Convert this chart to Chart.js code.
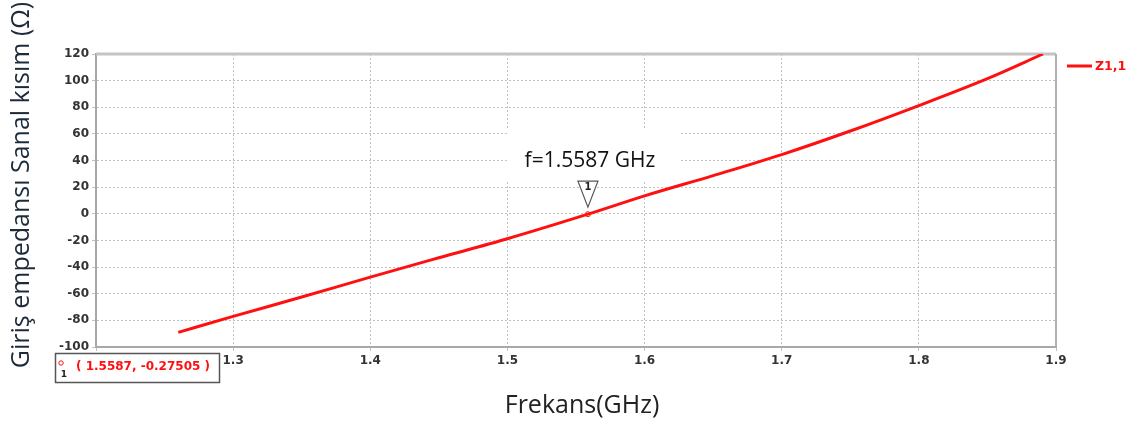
<!DOCTYPE html>
<html lang="tr">
<head>
<meta charset="UTF-8">
<title>Giriş empedansı Sanal kısım</title>
<script src="https://cdn.jsdelivr.net/npm/chart.js"></script>
<style>
    html, body { margin: 0; padding: 0; background: #fff; }
    .wrap { width: 1140px; height: 428px; }
</style>
</head>
<body>
<div class="wrap"><canvas id="chart" width="1140" height="428"></canvas></div>
<script>
// values
const freqGHz = [1.26, 1.30, 1.35, 1.40, 1.45, 1.50, 1.5587, 1.60, 1.65, 1.70, 1.75, 1.80, 1.85, 1.8905];
const imagZ   = [-89, -77, -62.5, -47.5, -33, -18.7, -0.27505, 13.5, 28.7, 44.5, 62.2, 81.3, 101.5, 120];
const seriesName = 'Z1,1';
const xTitle = 'Frekans(GHz)';
const yTitle = 'Giriş empedansı Sanal kısım (Ω)';
const markerFreq = 1.5587;
const markerValue = -0.27505;
const markerText = 'f=1.5587 GHz';
const markerReadout = '( 1.5587, -0.27505 )';

const RED = '#ff1010';
const TICK_FONT = { family: 'DejaVu Sans', size: 12, weight: 'bold' };

// frame, axis titles, marker, legend, readout box
const extras = {
    id: 'extras',
    beforeDatasetsDraw(chart) {
        const { ctx, chartArea: a } = chart;
        ctx.save();
        ctx.strokeStyle = '#c4c4c4';
        ctx.lineWidth = 3;
        ctx.beginPath();
        ctx.moveTo(a.left, a.top);
        ctx.lineTo(a.right, a.top);
        ctx.stroke();
        ctx.strokeStyle = '#b0b0b0';
        ctx.lineWidth = 2;
        ctx.beginPath();
        ctx.moveTo(a.right, a.top);
        ctx.lineTo(a.right, a.bottom);
        ctx.stroke();

        // label box for the marker frequency
        const px = chart.scales.x.getPixelForValue(markerFreq);
        ctx.fillStyle = '#fff';
        ctx.fillRect(px - 81, 130, 173, 50);
        ctx.fillStyle = '#111';
        ctx.font = '21px "Open Sans"';
        ctx.textAlign = 'center';
        ctx.textBaseline = 'middle';
        ctx.fillText(markerText, px + 2, 161);

        // axis titles
        ctx.font = '25px "Open Sans"';
        ctx.fillStyle = '#222';
        ctx.fillText(xTitle, a.left + (a.right - a.left) / 2 + 6, 406);
        ctx.translate(22, 185);
        ctx.rotate(-Math.PI / 2);
        ctx.fillStyle = '#1c2a3a';
        ctx.fillText(yTitle, 0, 0);
        ctx.restore();
    },
    afterDraw(chart) {
        const { ctx, chartArea: a } = chart;
        const px = chart.scales.x.getPixelForValue(markerFreq);
        const py = chart.scales.y.getPixelForValue(markerValue);
        ctx.save();

        // triangle marker
        ctx.beginPath();
        ctx.moveTo(px - 10, py - 33);
        ctx.lineTo(px + 10, py - 33);
        ctx.lineTo(px, py - 7);
        ctx.closePath();
        ctx.fillStyle = '#fff';
        ctx.fill();
        ctx.strokeStyle = '#555';
        ctx.lineWidth = 1.2;
        ctx.stroke();
        ctx.fillStyle = '#222';
        ctx.font = 'bold 10px "DejaVu Sans"';
        ctx.textAlign = 'center';
        ctx.textBaseline = 'middle';
        ctx.fillText('1', px, py - 27);

        // legend
        const ly = a.top + 12;
        ctx.strokeStyle = RED;
        ctx.lineWidth = 3;
        ctx.beginPath();
        ctx.moveTo(a.right + 11, ly);
        ctx.lineTo(a.right + 36, ly);
        ctx.stroke();
        ctx.fillStyle = RED;
        ctx.font = 'bold 12.5px "DejaVu Sans"';
        ctx.textAlign = 'left';
        ctx.fillText(seriesName, a.right + 39, ly + 1);

        // readout box bottom-left
        ctx.fillStyle = '#fff';
        ctx.fillRect(55, 353, 164, 29);
        ctx.strokeStyle = '#555';
        ctx.lineWidth = 1.5;
        ctx.strokeRect(55.5, 353.5, 164, 29);
        ctx.fillStyle = RED;
        ctx.font = 'bold 12px "DejaVu Sans"';
        ctx.textAlign = 'left';
        ctx.fillText(markerReadout, 76, 367);
        ctx.beginPath();
        ctx.arc(61, 363, 2.2, 0, Math.PI * 2);
        ctx.strokeStyle = RED;
        ctx.lineWidth = 1;
        ctx.stroke();
        ctx.fillStyle = '#222';
        ctx.font = 'bold 9px "DejaVu Sans"';
        ctx.textAlign = 'center';
        ctx.fillText('1', 64, 375);
        ctx.restore();
    }
};

new Chart(document.getElementById('chart'), {
    type: 'line',
    data: {
        datasets: [
            {
                label: seriesName,
                data: freqGHz.map((f, i) => ({ x: f, y: imagZ[i] })),
                borderColor: RED,
                borderWidth: 3,
                pointRadius: 0,
                cubicInterpolationMode: 'monotone'
            },
            {
                label: 'marker',
                data: [{ x: markerFreq, y: markerValue }],
                showLine: false,
                pointRadius: 2.5,
                pointBackgroundColor: '#fff',
                pointBorderColor: RED,
                pointBorderWidth: 1
            }
        ]
    },
    options: {
        responsive: false,
        animation: false,
        layout: { padding: { top: 54, right: 84, left: 0, bottom: 0 } },
        plugins: {
            legend: { display: false },
            tooltip: { enabled: false }
        },
        scales: {
            x: {
                type: 'linear',
                min: 1.2,
                max: 1.9,
                afterFit: s => { s.height = 81; },
                ticks: {
                    stepSize: 0.1,
                    color: '#333',
                    font: TICK_FONT,
                    padding: 3,
                    maxRotation: 0,
                    callback: v => v.toFixed(1)
                },
                grid: { color: '#c2c2c2', lineWidth: 1, tickLength: 4 },
                border: { color: '#a8a8a8', width: 2, dash: [2, 2] }
            },
            y: {
                min: -100,
                max: 120,
                afterFit: s => { s.width = 96; },
                ticks: {
                    stepSize: 20,
                    color: '#333',
                    font: TICK_FONT,
                    padding: 3
                },
                grid: { color: '#c2c2c2', lineWidth: 1, tickLength: 4 },
                border: { color: '#a8a8a8', width: 2, dash: [2, 2] }
            }
        }
    },
    plugins: [extras]
});
</script>
</body>
</html>
